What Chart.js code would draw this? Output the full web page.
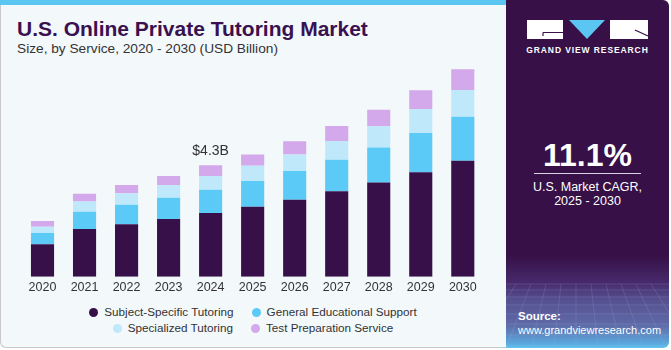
<!DOCTYPE html>
<html>
<head>
<meta charset="utf-8">
<script src="https://cdn.jsdelivr.net/npm/chart.js@4.4.1/dist/chart.umd.min.js"></script>
<style>
  html, body { margin: 0; padding: 0; background: #ffffff; }
  body { width: 671px; height: 350px; position: relative; overflow: hidden; font-family: "Liberation Sans", Arial, sans-serif; }
  #left {
    position: absolute; left: 0; top: 0; width: 505px; height: 347px;
    background: #f3f8fb; border-left: 1px solid #c9c9c9; border-bottom: 1px solid #c9c9c9;
    border-bottom-left-radius: 6px;
  }
  #strip { position: absolute; left: 0; top: 0; width: 506px; height: 5px; background: #5bc6f1; }
  #title { position: absolute; left: 17px; top: 17px; font-size: 21px; font-weight: bold; color: #3a1150; white-space: nowrap; }
  #subtitle { position: absolute; left: 17px; top: 41px; font-size: 13.7px; color: #333333; white-space: nowrap; }
  #chartBox { position: absolute; left: 0; top: 0; width: 506px; height: 300px; }
  #legend { position: absolute; left: 0; top: 304px; width: 506px; font-size: 11.7px; color: #333333; }
  .row { display: flex; justify-content: center; gap: 18px; height: 16px; line-height: 16px; }
  .item { display: flex; align-items: center; white-space: nowrap; }
  .dot { width: 9px; height: 9px; border-radius: 50%; margin-right: 6px; }
  #right {
    position: absolute; left: 506px; top: 0; width: 163px; height: 348px;
    border-top-right-radius: 6px; border-bottom-right-radius: 6px; overflow: hidden;
    background: linear-gradient(to bottom, #361046 0px, #361046 255px, #47296b 282px, #56508f 300px, #5f6aa8 325px, #5aa6dc 343px, #63c3ef 348px);
    color: #ffffff;
  }
  #brand { position: absolute; left: 0; top: 45px; width: 163px; text-align: center; font-size: 8.5px; font-weight: bold; letter-spacing: 0.9px; color: #ffffff; }
  #cagr { position: absolute; left: 0; top: 137px; width: 163px; text-align: center; font-size: 32px; font-weight: bold; line-height: 36px; }
  #rule { position: absolute; left: 28px; top: 173px; width: 107px; height: 1px; background: #d9d2e0; }
  #cagrText { position: absolute; left: 0; top: 180px; width: 163px; text-align: center; font-size: 12.5px; line-height: 14px; }
  #source { position: absolute; left: 12px; top: 309px; font-size: 11px; line-height: 14px; }
  #source b { font-size: 11.5px; }
</style>
</head>
<body>
<div id="left"></div>
<div id="strip"></div>
<div id="title">U.S. Online Private Tutoring Market</div>
<div id="subtitle">Size, by Service, 2020 - 2030 (USD Billion)</div>
<div id="chartBox"><canvas id="myChart" width="506" height="300"></canvas></div>
<div id="legend"></div>

<div id="right">
  <svg width="163" height="348" style="position:absolute;left:0;top:0">
    <!-- logo blocks -->
    <rect x="21" y="20" width="36" height="19" fill="#ffffff"/>
    <path d="M37 32.5 H57 M37 32.5 V36" stroke="#361046" stroke-width="1.2" fill="none"/>
    <polygon points="63,20 99,20 81,39" fill="#5bc6f1"/>
    <rect x="104" y="20" width="38" height="19" fill="#ffffff"/>
    <line x1="129" y1="30" x2="142" y2="36" stroke="#361046" stroke-width="1.2"/>
    <!-- floor grid -->
    <g stroke="#9fb4e0" stroke-opacity="0.28" stroke-width="0.7" fill="none">
      <path d="M0 284 H163 M0 290 H163 M0 297 H163 M0 305 H163 M0 314 H163 M0 324 H163 M0 335 H163"/>
      <path d="M10 284 L-30 348 M25 284 L0 348 M40 284 L25 348 M55 284 L48 348 M70 284 L70 348 M85 284 L92 348 M100 284 L115 348 M115 284 L138 348 M130 284 L160 348 M145 284 L185 348"/>
    </g>
  </svg>
  <div id="brand">GRAND VIEW RESEARCH</div>
  <div id="cagr">11.1%</div>
  <div id="rule"></div>
  <div id="cagrText">U.S. Market CAGR,<br>2025 - 2030</div>
  <div id="source"><b>Source:</b><br>www.grandviewresearch.com</div>
</div>

<script>
// market size by service, USD billion
const years = ['2020', '2021', '2022', '2023', '2024', '2025', '2026', '2027', '2028', '2029', '2030'];
const subjectSpecific = [1.25, 1.84, 2.02, 2.23, 2.46, 2.70, 2.97, 3.30, 3.64, 4.03, 4.48];
const generalSupport = [0.44, 0.67, 0.76, 0.82, 0.90, 0.99, 1.11, 1.21, 1.35, 1.52, 1.69];
const specialized = [0.24, 0.39, 0.44, 0.48, 0.53, 0.59, 0.64, 0.73, 0.82, 0.92, 1.04];
const testPrep = [0.22, 0.30, 0.32, 0.36, 0.41, 0.44, 0.51, 0.58, 0.63, 0.73, 0.80];

const seriesNames = ['Subject-Specific Tutoring', 'General Educational Support', 'Specialized Tutoring', 'Test Preparation Service'];
const seriesColors = ['#37104a', '#5bcaf7', '#bfe9fb', '#d4a9ec'];
const labelledYear = '2024';

const seriesData = [subjectSpecific, generalSupport, specialized, testPrep];

// total label above one bar
const totalLabel = {
    id: 'totalLabel',
    afterDatasetsDraw(chart) {
        const i = years.indexOf(labelledYear);
        const total = seriesData.reduce((s, arr) => s + arr[i], 0);
        const top = chart.getDatasetMeta(seriesData.length - 1).data[i];
        const c = chart.ctx;
        c.save();
        c.font = '14px "Liberation Sans", Arial, sans-serif';
        c.fillStyle = '#333333';
        c.textAlign = 'center';
        c.textBaseline = 'alphabetic';
        c.fillText('$' + total.toFixed(1) + 'B', top.x, top.y - 10);
        c.restore();
    }
};

const ctx = document.getElementById('myChart').getContext('2d');

const myChart = new Chart(ctx, {
    type: 'bar',
    data: {
        labels: years,
        datasets: seriesData.map((d, k) => ({
            label: seriesNames[k],
            data: d,
            backgroundColor: seriesColors[k],
            borderWidth: 0,
            categoryPercentage: 1,
            barPercentage: 0.55
        }))
    },
    options: {
        responsive: false,
        animation: false,
        layout: { padding: { left: 21.5, right: 22.2, top: 56.5, bottom: 2.3 } },
        plugins: {
            legend: { display: false },
            tooltip: { enabled: false }
        },
        scales: {
            x: {
                stacked: true,
                grid: { display: false, drawTicks: false },
                border: { display: false },
                ticks: {
                    color: '#333333',
                    padding: 3,
                    font: { family: '"Liberation Sans", Arial, sans-serif', size: 12.5 }
                }
            },
            y: {
                stacked: true,
                display: false,
                min: 0,
                max: 8.5
            }
        }
    },
    plugins: [totalLabel]
});

// legend in two rows
const legend = document.getElementById('legend');
[[0, 1], [2, 3]].forEach(row => {
    const r = document.createElement('div');
    r.className = 'row';
    row.forEach(k => {
        const it = document.createElement('div');
        it.className = 'item';
        it.innerHTML = '<span class="dot" style="background:' + seriesColors[k] + '"></span>' + seriesNames[k];
        r.appendChild(it);
    });
    legend.appendChild(r);
});
</script>
</body>
</html>
